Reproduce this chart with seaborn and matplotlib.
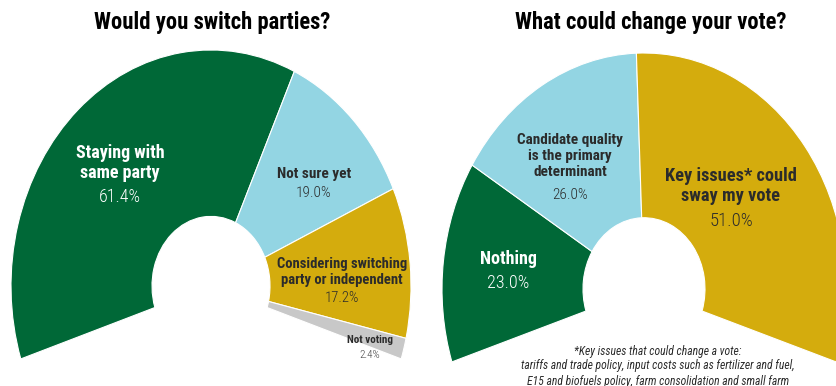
import matplotlib
matplotlib.use("Agg")
import matplotlib.pyplot as plt
import seaborn as sns
from matplotlib import font_manager

sns.set_theme(style="white")

available = {f.name for f in font_manager.fontManager.ttflist}
FONT = "Roboto"
for cand in ["Roboto Condensed", "Liberation Sans Narrow", "Roboto"]:
    if cand in available:
        FONT = cand
        break
plt.rcParams["font.family"] = [FONT, "DejaVu Sans"]

# ---- data ----
left_title = "Would you switch parties?"
left_labels = ["Staying with\nsame party", "Not sure yet",
               "Considering switching\nparty or independent", "Not voting"]
left_values = [61.4, 19.0, 17.2, 2.4]
left_colors = ["#006837", "#93D5E3", "#D4AC0D", "#C8C8C8"]

right_title = "What could change your vote?"
right_labels = ["Nothing", "Candidate quality\nis the primary\ndeterminant",
                "Key issues* could\nsway my vote"]
right_values = [23.0, 26.0, 51.0]
right_colors = ["#006837", "#93D5E3", "#D4AC0D"]

footnote = ("*Key issues that could change a vote:\n"
            "tariffs and trade policy, input costs such as fertilizer and fuel,\n"
            "E15 and biofuels policy, farm consolidation and small farm")

W, H = 837, 386
SPAN = 216.0
START = 198.0
fig = plt.figure(figsize=(W / 100, H / 100), dpi=100)
fig.patch.set_facecolor("white")


def px_axes(cx, cy, rx, ry):
    return fig.add_axes([(cx - rx) / W, (H - cy - ry) / H, 2 * rx / W, 2 * ry / H])


def half_donut(ax, values, colors, hole):
    total = sum(values)
    filler = total * (360 - SPAN) / SPAN
    wedges, _ = ax.pie(list(values) + [filler], colors=list(colors) + ["none"],
                       startangle=START, counterclock=False,
                       wedgeprops=dict(width=1 - hole, edgecolor="white", linewidth=0.8))
    wedges[-1].set_visible(False)
    ax.set_aspect("auto")
    ax.set_xlim(-1, 1)
    ax.set_ylim(-1, 1)
    ax.axis("off")


axl = px_axes(211, 286, 200, 236)
half_donut(axl, left_values, left_colors, 59 / 200)
axr = px_axes(644, 289, 202, 236)
half_donut(axr, right_values, right_colors, 61 / 202)


def t(x, y, s, size, color="#222222", weight="normal", style="normal", ls=1.15):
    fig.text(x / W, 1 - y / H, s, ha="center", va="center", fontsize=size,
             color=color, fontweight=weight, fontstyle=style, linespacing=ls)


# titles
t(212, 23, left_title, 16.3, color="black", weight="bold")
t(651, 23, right_title, 16.3, color="black", weight="bold")

dark = "#2b2b2b"
pw = "light"
# left labels
t(120, 163, left_labels[0], 13, color="white", weight="bold", ls=1.1)
t(120, 197, f"{left_values[0]:.1f}%", 13, color="white", weight=pw)
t(314, 174, left_labels[1], 11, color=dark, weight="bold")
t(314, 193, f"{left_values[1]:.1f}%", 11, color=dark, weight=pw)
t(342, 272, left_labels[2], 10.5, color=dark, weight="bold", ls=1.15)
t(342, 298, f"{left_values[2]:.1f}%", 10.5, color=dark, weight=pw)
t(370, 340, left_labels[3], 8, color=dark, weight="bold")
t(370, 355, f"{left_values[3]:.1f}%", 8, color="#444444", weight=pw)

# right labels
t(508, 259, right_labels[0], 13, color="white", weight="bold")
t(508, 283, f"{right_values[0]:.1f}%", 13, color="white", weight=pw)
t(570, 156, right_labels[1], 11, color=dark, weight="bold", ls=1.2)
t(570, 195, f"{right_values[1]:.1f}%", 11, color=dark, weight=pw)
t(731, 186, right_labels[2], 13.2, color=dark, weight="bold", ls=1.2)
t(731, 221, f"{right_values[2]:.1f}%", 13.5, color=dark, weight=pw)

t(658, 366, footnote, 8.4, color=dark, style="italic", ls=1.2)

fig.savefig("out.png", dpi=100, facecolor="white")
